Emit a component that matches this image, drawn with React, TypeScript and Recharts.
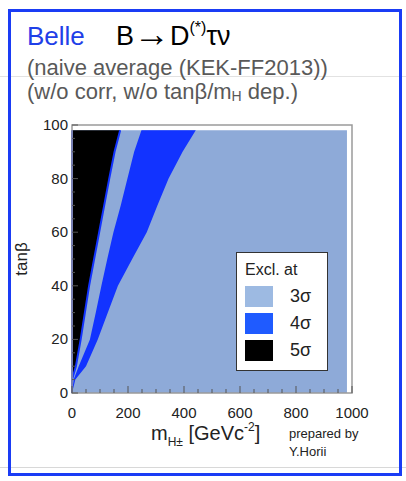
import { Area, ComposedChart, Legend, ReferenceArea, XAxis, YAxis } from 'recharts';

// tanβ rows of the scan and the m_H± edges of each exclusion region (GeV)
const tanBeta = [0, 5, 10, 20, 30, 40, 50, 60, 70, 80, 90, 98];
const edge5Sigma = [0, 0, 14, 31, 46, 61, 79, 97, 115, 133, 152, 172];
const band4SigmaLow = [0, 6, 24, 64, 85, 105, 126, 148, 174, 198, 222, 248];
const band4SigmaHigh = [0, 12, 50, 92, 128, 164, 215, 267, 305, 345, 395, 442];
const scanMaxMass = 982;

const xTicks = [0, 50, 100, 150, 200, 250, 300, 350, 400, 450, 500, 550, 600, 650, 700, 750, 800, 850, 900, 950, 1000];
const yTicks = [0, 5, 10, 15, 20, 25, 30, 35, 40, 45, 50, 55, 60, 65, 70, 75, 80, 85, 90, 95, 100];

const legendItems = [
    { label: '3σ', color: '#9dbae2' },
    { label: '4σ', color: '#1f5bff' },
    { label: '5σ', color: '#000000' },
];

const COLORS = { light: '#8eaad8', blue: '#1233ff', black: '#000000' };
const FONT = '"Liberation Sans", Arial, sans-serif';

const data = tanBeta.map((t, i) => ({
    tanb: t,
    all: [0, scanMaxMass],
    sig4: [band4SigmaLow[i], band4SigmaHigh[i]],
    sig5: [0, edge5Sigma[i]],
}));

function XTick(props: any) {
    const { x, y, payload } = props;
    const major = payload.value % 200 === 0;
    return (
        <g>
            <line x1={x} x2={x} y1={y} y2={y - (major ? 7 : 4)} stroke="#555" strokeWidth={1} />
            {major && (
                <text x={x} y={y + 25} textAnchor="middle" fontSize={15} fill="#222" fontFamily={FONT}>
                    {payload.value}
                </text>
            )}
        </g>
    );
}

function YTick(props: any) {
    const { x, y, payload } = props;
    const major = payload.value % 20 === 0;
    return (
        <g>
            <line x1={x} x2={x + (major ? 6 : 3)} y1={y} y2={y} stroke="#555" strokeWidth={1} />
            {major && (
                <text x={x - 4} y={y + 5} textAnchor="end" fontSize={15} fill="#222" fontFamily={FONT}>
                    {payload.value}
                </text>
            )}
        </g>
    );
}

function LegendBox() {
    return (
        <div
            style={{
                position: 'relative',
                width: 92,
                height: 119,
                boxSizing: 'border-box',
                border: '1.5px solid #333',
                background: '#fff',
                fontFamily: FONT,
                color: '#222',
            }}
        >
            <div style={{ position: 'absolute', left: 8, top: 8, fontSize: 16, lineHeight: '18px' }}>Excl. at</div>
            {legendItems.map((it, i) => (
                <div key={it.label}>
                    <div
                        style={{
                            position: 'absolute',
                            left: 8,
                            top: 33 + i * 27,
                            width: 28,
                            height: 21,
                            background: it.color,
                        }}
                    />
                    <div style={{ position: 'absolute', left: 53, top: 33 + i * 27, fontSize: 18, lineHeight: '21px' }}>
                        {it.label}
                    </div>
                </div>
            ))}
        </div>
    );
}

export default function App() {
    return (
        <div style={{ position: 'absolute', left: 0, top: 0, width: 406, height: 481, background: '#fff', overflow: 'hidden' }}>
            {/* faint slide rules behind the frame */}
            <div style={{ position: 'absolute', left: 0, top: 76, width: 406, height: 1, background: '#e2e2e2' }} />
            <div style={{ position: 'absolute', left: 0, top: 467, width: 406, height: 1, background: '#d8d8d8' }} />
            <div
                style={{
                    position: 'absolute',
                    left: 8,
                    top: 9,
                    width: 394,
                    height: 467,
                    border: '3px solid #1a3cf5',
                    boxSizing: 'border-box',
                }}
            />

            <div style={{ position: 'absolute', left: 0, top: 0 }}>
                <ComposedChart
                    width={406}
                    height={481}
                    data={data}
                    layout="vertical"
                    margin={{ top: 125, right: 54, bottom: 58, left: 32 }}
                >
                    <Area
                        type="linear"
                        dataKey="all"
                        fill={COLORS.light}
                        fillOpacity={1}
                        stroke="none"
                        dot={false}
                        activeDot={false}
                        isAnimationActive={false}
                    />
                    <Area
                        type="linear"
                        dataKey="sig4"
                        fill={COLORS.blue}
                        fillOpacity={1}
                        stroke="none"
                        dot={false}
                        activeDot={false}
                        isAnimationActive={false}
                    />
                    <Area
                        type="linear"
                        dataKey="sig5"
                        fill={COLORS.black}
                        fillOpacity={1}
                        stroke={COLORS.blue}
                        strokeWidth={2}
                        dot={false}
                        activeDot={false}
                        isAnimationActive={false}
                    />
                    <ReferenceArea x1={0} x2={1000} y1={0} y2={100} fill="none" stroke="#9a9a9a" strokeWidth={1.5} />
                    <XAxis
                        type="number"
                        domain={[0, 1000]}
                        ticks={xTicks}
                        interval={0}
                        height={30}
                        tickSize={0}
                        tickMargin={0}
                        axisLine={false}
                        tickLine={false}
                        tick={<XTick />}
                    />
                    <YAxis
                        type="number"
                        dataKey="tanb"
                        domain={[0, 100]}
                        reversed
                        ticks={yTicks}
                        interval={0}
                        width={40}
                        tickSize={0}
                        tickMargin={0}
                        axisLine={false}
                        tickLine={false}
                        tick={<YTick />}
                    />
                    <Legend
                        content={() => <LegendBox />}
                        layout="horizontal"
                        verticalAlign="middle"
                        align="center"
                        wrapperStyle={{ left: 236, top: 252, width: 92, height: 119 }}
                    />
                </ComposedChart>
            </div>

            <svg width={406} height={481} style={{ position: 'absolute', left: 0, top: 0, pointerEvents: 'none' }}>
                <g fontFamily={FONT}>
                    <text x={27} y={45} fontSize={26} fill="#1f40e8">
                        Belle
                    </text>
                    <text x={116} y={45} fontSize={27} fill="#000">
                        B
                        <tspan fontSize={36} fontWeight="bold" dy={1}>
                            →
                        </tspan>
                        <tspan dy={-1}>D</tspan>
                        <tspan fontSize={16} dy={-12}>
                            (*)
                        </tspan>
                        <tspan dy={12}>τν</tspan>
                    </text>
                    <text x={27} y={75} fontSize={22} fill="#595959">
                        (naive average (KEK-FF2013))
                    </text>
                    <text x={27} y={99} fontSize={22} fill="#595959">
                        (w/o corr, w/o tanβ/m
                        <tspan fontSize={14} dy={2}>
                            H
                        </tspan>
                        <tspan dy={-2}> dep.)</tspan>
                    </text>
                    <text x={0} y={0} fontSize={17} fill="#222" textAnchor="middle" transform="translate(27 259) rotate(-90)">
                        tanβ
                    </text>
                    <text x={151} y={440} fontSize={20} fill="#222">
                        m
                        <tspan fontSize={12} dy={6}>
                            H±
                        </tspan>
                        <tspan dy={-6}> [GeVc</tspan>
                        <tspan fontSize={12} dy={-9}>
                            -2
                        </tspan>
                        <tspan dy={9}>]</tspan>
                    </text>
                    <text x={289} y={438} fontSize={13} fill="#222">
                        prepared by
                    </text>
                    <text x={289} y={456} fontSize={13} fill="#222">
                        Y.Horii
                    </text>
                </g>
            </svg>
        </div>
    );
}
